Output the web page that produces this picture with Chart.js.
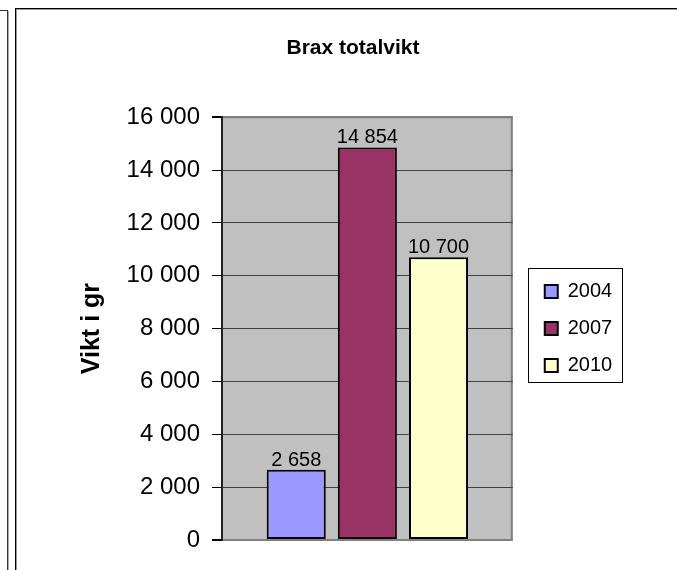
<!DOCTYPE html>
<html>
<head>
<meta charset="utf-8">
<script src="https://cdn.jsdelivr.net/npm/chart.js@4.4.1/dist/chart.umd.min.js"></script>
<style>
    html, body { margin: 0; padding: 0; background: #fff; overflow: hidden; width: 677px; height: 570px; }
    #leftFrame { position: absolute; left: -20px; top: 10px; width: 27px; height: 600px;
        border-top: 1px solid #333; border-right: 1px solid #333; box-shadow: 1px 1px 0 #aaa; }
    #chartFrame { position: absolute; left: 15px; top: 8px; width: 800px; height: 700px;
        border-top: 1px solid #000; border-left: 1px solid #000; box-shadow: inset 1px 1px 0 #999; }
    #chartCanvas { position: absolute; left: 0; top: 0; }
</style>
</head>
<body>
<div id="leftFrame"></div>
<div id="chartFrame"></div>
<canvas id="chartCanvas" width="706" height="570"></canvas>
<script>
// Datos del gráfico
const categorias = [''];
const anios = ['2004', '2007', '2010'];
const pesos = [2658, 14854, 10700];
const colores = ['#9999FF', '#993366', '#FFFFCC'];
const ejeMin = 0;
const ejeMax = 16000;
const ejePaso = 2000;

// Formato con espacio como separador de miles
function fmt(v) {
    return String(v).replace(/\B(?=(\d{3})+(?!\d))/g, ' ');
}

Chart.defaults.font.family = '"Liberation Sans", Arial, sans-serif';
Chart.defaults.color = '#000';

// Fondo gris del área de trazado con borde superior y derecho
const fondoPlot = {
    id: 'fondoPlot',
    beforeDraw(chart) {
        const { ctx, chartArea: a } = chart;
        ctx.save();
        ctx.fillStyle = '#C0C0C0';
        ctx.fillRect(a.left, a.top, a.right - a.left, a.bottom - a.top);
        ctx.strokeStyle = '#808080';
        ctx.lineWidth = 2;
        ctx.beginPath();
        ctx.moveTo(a.left, a.top);
        ctx.lineTo(a.right - 1, a.top);
        ctx.lineTo(a.right - 1, a.bottom);
        ctx.stroke();
        ctx.restore();
    }
};

// Etiquetas de valor sobre cada barra
const etiquetas = {
    id: 'etiquetas',
    afterDatasetsDraw(chart) {
        const ctx = chart.ctx;
        ctx.save();
        ctx.font = '20px "Liberation Sans", Arial, sans-serif';
        ctx.fillStyle = '#000';
        ctx.textAlign = 'center';
        ctx.textBaseline = 'alphabetic';
        chart.data.datasets.forEach((ds, i) => {
            chart.getDatasetMeta(i).data.forEach((bar, j) => {
                ctx.fillText(fmt(ds.data[j]), bar.x, bar.y - 4);
            });
        });
        ctx.restore();
    }
};

// Marco de la leyenda
const marcoLeyenda = {
    id: 'marcoLeyenda',
    afterDraw(chart) {
        const lg = chart.legend;
        const hb = lg.legendHitBoxes;
        if (!hb || !hb.length) return;
        const top = Math.round(hb[0].top - 14) + 0.5;
        const last = hb[hb.length - 1];
        const bottom = Math.round(last.top + last.height + 6) + 0.5;
        const left = Math.round(lg.left) + 0.5;
        const right = Math.round(lg.right) + 6.5;
        const ctx = chart.ctx;
        ctx.save();
        ctx.strokeStyle = '#000';
        ctx.lineWidth = 1;
        ctx.strokeRect(left, top, right - left, bottom - top);
        ctx.restore();
    }
};

const datasets = anios.map((anio, i) => ({
    label: anio,
    data: [pesos[i]],
    backgroundColor: colores[i],
    borderColor: '#000',
    borderWidth: 2,
    borderSkipped: false,
    categoryPercentage: 0.734,
    barPercentage: 0.83
}));

const ctx = document.getElementById('chartCanvas').getContext('2d');
new Chart(ctx, {
    type: 'bar',
    data: { labels: categorias, datasets: datasets },
    options: {
        responsive: false,
        animation: false,
        devicePixelRatio: 1,
        layout: { padding: { left: 0, right: 0, top: 0, bottom: 30 } },
        plugins: {
            title: {
                display: true,
                text: 'Brax totalvikt',
                font: { size: 21, weight: 'bold' },
                padding: { top: 36, bottom: 56 }
            },
            legend: {
                display: true,
                position: 'right',
                fullSize: false,
                labels: {
                    font: { size: 20 },
                    boxWidth: 13,
                    boxHeight: 13,
                    padding: 17,
                    color: '#000'
                }
            },
            tooltip: { enabled: false }
        },
        scales: {
            x: {
                display: false
            },
            y: {
                min: ejeMin,
                max: ejeMax,
                ticks: {
                    stepSize: ejePaso,
                    padding: 12,
                    font: { size: 24 },
                    color: '#000',
                    callback: v => fmt(v)
                },
                grid: {
                    color: c => (c.tick && (c.tick.value === ejeMin || c.tick.value === ejeMax)) ? '#808080' : '#404040',
                    lineWidth: c => (c.tick && (c.tick.value === ejeMin || c.tick.value === ejeMax)) ? 2 : 1,
                    tickColor: '#000',
                    tickLength: 10,
                    drawTicks: true
                },
                border: { display: true, color: '#222', width: 2 },
                title: {
                    display: true,
                    text: 'Vikt i gr',
                    font: { size: 25, weight: 'bold' },
                    color: '#000',
                    padding: { top: 77, bottom: 0 }
                },
                afterFit: s => { s.width = 222; }
            },
            // ejes vacíos solo para dejar espacio alrededor de la leyenda
            y2: {
                type: 'linear',
                position: 'right',
                weight: 0,
                grid: { display: false },
                ticks: { display: false },
                border: { display: false },
                afterFit: s => { s.width = 15; }
            },
            y3: {
                type: 'linear',
                position: 'right',
                weight: 2000,
                grid: { display: false },
                ticks: { display: false },
                border: { display: false },
                afterFit: s => { s.width = 90; }
            }
        }
    },
    plugins: [fondoPlot, etiquetas, marcoLeyenda]
});
</script>
</body>
</html>
